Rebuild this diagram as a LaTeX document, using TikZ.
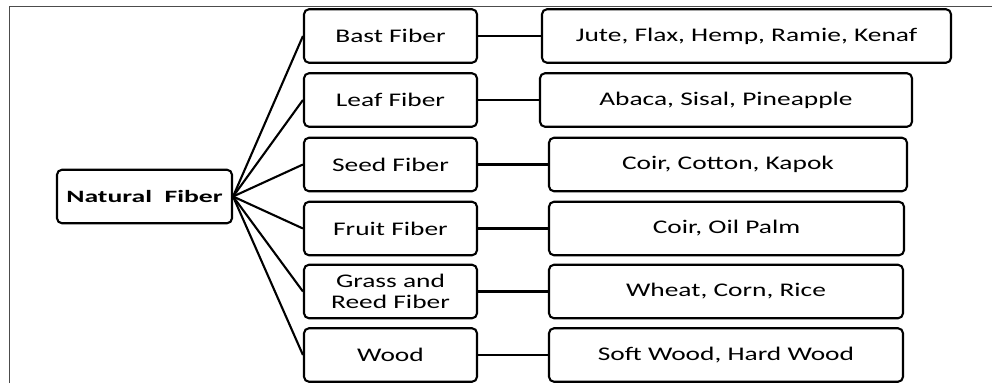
\documentclass[tikz,border=0pt]{standalone}
\usepackage{fontspec}
\setmainfont{Carlito}[FakeStretch=1.42]
\newfontfamily\rootfont{Carlito}[FakeStretch=1.6]
\begin{document}
\begin{tikzpicture}[x=1pt,y=-1pt,
  fbox/.style={draw=black, line width=2.1pt, rounded corners=5pt,
    rectangle, inner sep=0pt, minimum height=53.5pt, align=center,
    font=\fontsize{19.3}{20.5}\selectfont},
  midbox/.style={fbox, minimum width=173pt},
  link/.style={draw=black, line width=2.1pt}]
\useasboundingbox (0,0) rectangle (992,383);
% page frame (top and left edges)
\draw[line width=0.9pt, black!70] (9.3,383) -- (9.3,6.5) -- (992,6.5);

% root
\node[fbox, minimum width=175pt, font=\rootfont\bfseries\fontsize{17.3}{20}\selectfont]
  (nat) at (144.5,196.5) {Natural\ \ Fiber};

% fibre classes
\node[midbox] (bast)  at (390.5,36)    {Bast Fiber};
\node[midbox] (leaf)  at (390.5,100)   {Leaf Fiber};
\node[midbox] (seed)  at (390.5,164.5) {Seed Fiber};
\node[midbox] (fruit) at (390.5,228.5) {Fruit Fiber};
\node[midbox] (grass) at (390.5,291.5) {Grass and\\Reed Fiber};
\node[midbox] (wood)  at (390.5,355)   {Wood};

% examples
\node[fbox, minimum width=409pt] (bastx)  at (746.5,36)    {Jute, Flax, Hemp, Ramie, Kenaf};
\node[fbox, minimum width=372pt] (leafx)  at (726,100)     {Abaca, Sisal, Pineapple};
\node[fbox, minimum width=358pt] (seedx)  at (728,164.5)   {Coir, Cotton, Kapok};
\node[fbox, minimum width=355pt] (fruitx) at (726.5,228.5) {Coir, Oil Palm};
\node[fbox, minimum width=354pt] (grassx) at (726,291.5)   {Wheat, Corn, Rice};
\node[fbox, minimum width=354pt] (woodx)  at (726,355)     {Soft Wood, Hard Wood};

% connectors
\foreach \m in {bast,leaf,seed,fruit,grass,wood}{
  \draw[link] (nat.east) -- (\m.west);
  \draw[link] (\m.east) -- (\m x.west);
}
\end{tikzpicture}
\end{document}
